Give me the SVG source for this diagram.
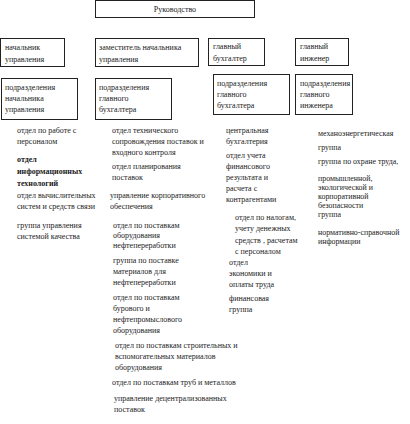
<svg xmlns="http://www.w3.org/2000/svg" width="410" height="424" viewBox="0 0 410 424">
<style>
rect.b{fill:#fff;stroke:#222;stroke-width:1}
text{font-family:"Liberation Serif","Times New Roman",serif;font-size:8px;fill:#222}
.bold{font-weight:bold}
.s{font-size:7.9px}
</style>
<rect width="410" height="424" fill="#fff"/>
<g id="rukovodstvo"><rect class="b" x="95.5" y="0.5" width="159" height="17"/><text x="175" y="12" text-anchor="middle">Руководство</text></g>
<g id="nachalnik"><rect class="b" x="0.5" y="38.5" width="64" height="28"/><text x="5" y="50">начальник</text><text x="5" y="62">управления</text></g>
<g id="zamestitel"><rect class="b" x="95.5" y="38.5" width="103" height="28"/><text x="99" y="50">заместитель начальника</text><text x="99" y="62">управления</text></g>
<g id="glavbuh"><rect class="b" x="208.5" y="38.5" width="56" height="27"/><text x="213" y="49">главный</text><text x="213" y="61">бухгалтер</text></g>
<g id="glavinzh"><rect class="b" x="295.5" y="38.5" width="53" height="27"/><text x="300" y="49">главный</text><text x="300" y="61">инженер</text></g>
<g id="podr-nach"><rect class="b" x="1.5" y="78.5" width="76" height="41"/><text x="5" y="90">подразделения</text><text x="5" y="101">начальника</text><text x="5" y="112">управления</text></g>
<g id="podr-buh1"><rect class="b" x="95.5" y="78.5" width="76" height="41"/><text x="99" y="90">подразделения</text><text x="99" y="101">главного</text><text x="99" y="112">бухгалтера</text></g>
<g id="podr-buh2"><rect class="b" x="213.5" y="74.5" width="76" height="40"/><text x="217" y="86">подразделения</text><text x="217" y="97">главного</text><text x="217" y="108">бухгалтера</text></g>
<g id="podr-inzh"><rect class="b" x="295.5" y="74.5" width="57" height="40"/><text x="300" y="86">подразделения</text><text x="300" y="97">главного</text><text x="300" y="108">инженера</text></g>
<g id="col1">
<text x="17" y="133">отдел по работе с</text><text x="17" y="144">персоналом</text>
<text class="bold" x="17" y="162">отдел</text><text class="bold" x="17" y="174">информационных</text><text class="bold" x="17" y="186">технологий</text>
<text x="17" y="198">отдел вычислительных</text><text x="17" y="209">систем и средств связи</text>
<text x="17" y="228">группа управления</text><text x="17" y="239">системой качества</text>
</g>
<g id="col2">
<text x="112" y="133">отдел технического</text><text x="112" y="144">сопровождения поставок и</text><text x="112" y="155">входного контроля</text>
<text x="112" y="169">отдел планирования</text><text x="112" y="180">поставок</text>
<text x="110" y="198">управление корпоративного</text><text x="110" y="209">обеспечения</text>
<text x="113" y="228">отдел по поставкам</text><text x="113" y="238">оборудования</text><text x="113" y="248">нефтепереработки</text>
<text x="113" y="263">группа по поставке</text><text x="113" y="274">материалов для</text><text x="113" y="285">нефтепереработки</text>
<text x="113" y="300">отдел по поставкам</text><text x="113" y="311">бурового и</text><text x="113" y="322">нефтепромыслового</text><text x="113" y="333">оборудования</text>
<text x="115" y="348">отдел по поставкам строительных и</text><text x="115" y="359">вспомогательных материалов</text><text x="115" y="370">оборудования</text>
<text x="112" y="385">отдел по поставкам труб и металлов</text>
<text x="114" y="401">управление децентрализованных</text><text x="114" y="412">поставок</text>
</g>
<g id="col3">
<text x="226" y="133">центральная</text><text x="226" y="144">бухгалтерия</text>
<text x="226" y="158">отдел учета</text><text x="226" y="169">финансового</text><text x="226" y="180">результата и</text><text x="226" y="191">расчета с</text><text x="226" y="202">контрагентами</text>
<text x="235" y="220">отдел по налогам,</text><text x="235" y="231">учету денежных</text><text x="235" y="243">средств , расчетам</text><text x="235" y="254">с персоналом</text>
<text x="229" y="265">отдел</text><text x="229" y="276">экономики и</text><text x="229" y="287">оплаты труда</text>
<text x="229" y="301">финансовая</text><text x="229" y="312">группа</text>
</g>
<g id="col4">
<text class="s" x="318" y="136">механоэнергетическая</text>
<text class="s" x="318" y="150">группа</text>
<text class="s" x="318" y="164">группа по охране труда,</text>
<text class="s" x="318" y="181">промышленной,</text><text class="s" x="318" y="190">экологической  и</text><text class="s" x="318" y="199">корпоративной</text><text class="s" x="318" y="208">безопасности</text><text class="s" x="318" y="217">группа</text>
<text class="s" x="318" y="235">нормативно-справочной</text><text class="s" x="318" y="244">информации</text>
</g>
</svg>
